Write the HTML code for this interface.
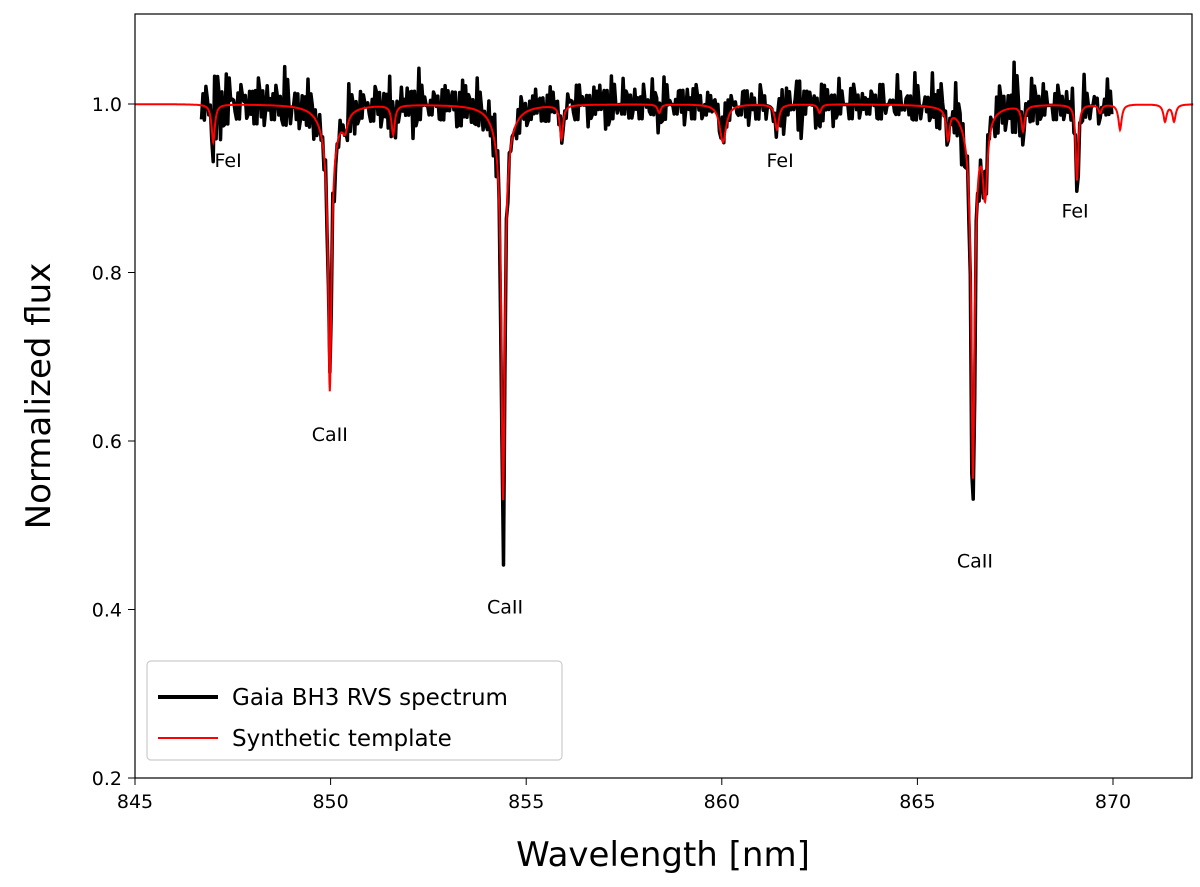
<!DOCTYPE html>
<html><head><meta charset="utf-8"><style>
body{margin:0;background:#fff;}
svg{display:block;font-family:"DejaVu Sans","Liberation Sans",sans-serif;}
</style></head><body>
<svg id="chart" width="1200" height="887">
<rect x="135" y="14" width="1057" height="764" fill="#fff"/>
<g id="marks"></g>
<rect x="135" y="14" width="1057" height="764" fill="none" stroke="#000" stroke-width="1.2"/>
<g id="ticks"></g>
<text x="663" y="866" font-size="34" text-anchor="middle">Wavelength [nm]</text>
<text transform="translate(50,396) rotate(-90)" font-size="34" text-anchor="middle">Normalized flux</text>
<g id="labels" font-size="19"></g>
<g>
<rect x="147" y="661" width="415" height="99" rx="4" fill="#fff" stroke="#ccc" stroke-width="1.2"/>
<line x1="158" y1="697" x2="218" y2="697" stroke="#000" stroke-width="4"/>
<text x="232" y="705" font-size="23">Gaia BH3 RVS spectrum</text>
<line x1="158" y1="738" x2="218" y2="738" stroke="#f00" stroke-width="2"/>
<text x="232" y="746" font-size="23">Synthetic template</text>
</g>
</svg>
<script>
const xTicks=[845,850,855,860,865,870];
const yTicks=[0.2,0.4,0.6,0.8,1.0];
// absorption lines: center (nm), template depth, observed depth, width (nm), wing depth
const lineCenters=[847.0,849.98,850.37,851.6,854.41,855.9,858.4,860.03,861.41,862.5,865.78,866.42,866.73,867.7,869.08,869.67,870.18,871.33,871.56];
const lineDepths=[0.045,0.30,0.02,0.035,0.43,0.04,0.01,0.045,0.03,0.01,0.035,0.40,0.09,0.03,0.09,0.01,0.03,0.02,0.02];
const obsDepths=[0.04,0.30,0.02,0.03,0.50,0.03,0.01,0.03,0.03,0.01,0.03,0.50,0.08,0.03,0.11,0.01,0,0,0];
const lineWidths=[0.05,0.05,0.08,0.05,0.05,0.05,0.05,0.1,0.06,0.05,0.05,0.05,0.07,0.05,0.04,0.05,0.05,0.05,0.05];
const wingDepths=[0,0.04,0,0,0.04,0,0,0,0,0,0,0.04,0,0,0,0,0,0,0];
const obsNoise=[0.03,-0.02,0.05,-0.03,0.04,-0.01,0.03,-0.02,0.02,0.04,-0.03,0.01,0.03,-0.02,0.04,0.0,-0.03,0.02,0.03,-0.02,0.01,0.03,-0.04,0.02,0.0,0.03,-0.02,0.02,-0.01,0.03,-0.03,0.02,0.04,-0.02,0.01,0.02,-0.03,0.03,0.0,0.02,-0.02,0.03,0.01,-0.03,0.04,0.02,-0.02,0.03,-0.01,0.02,0.04,-0.03,0.02,0.0,0.03,-0.02,0.02,0.01,-0.02,0.03,0.01,-0.02,0.02,-0.01,0.03,0.0,-0.02,0.02,0.01,-0.03,0.03,0.0,0.02,-0.02,0.01,0.03,-0.01,0.02,-0.02,0.03,0.0,0.02,-0.03,0.01,0.03,-0.02,0.02,0.01,-0.02,0.03,0.02,-0.01,0.02,-0.03,0.01,0.03,-0.02,0.0,0.02,-0.04,0.02,0.01,-0.05,0.02,0.0,-0.02,0.03,0.01,-0.02,0.02,0.0,0.03,-0.02,0.01,0.02,-0.02,0.03,0.0,-0.01,0.02,0.01,-0.02,0.03,0.0,-0.02,0.02,0.04,-0.02,0.01,0.03,-0.03,0.02,0.05,-0.02,0.03,0.0,0.04,-0.03,0.02,0.05,-0.02,0.01,0.03,-0.02,0.02,0.0,0.03,-0.02,0.01,0.02,-0.01,0.02,0.0,-0.02,0.01,0.02];
const labelText=["FeI","CaII","CaII","FeI","CaII","FeI"];
const labelX=[847.38,849.98,854.46,861.49,866.47,869.03];
const labelY=[0.925,0.6,0.395,0.925,0.45,0.865];

const NS="http://www.w3.org/2000/svg";
const X=v=>135+(v-845)*39.12;
const Y=v=>104+(1.0-v)*842.5;
const marks=document.getElementById('marks'),ticks=document.getElementById('ticks'),labels=document.getElementById('labels');
function prof(w,depths){let f=1;for(let i=0;i<lineCenters.length;i++){const d=(w-lineCenters[i])/lineWidths[i];f-=depths[i]/(1+d*d);const d2=(w-lineCenters[i])/0.25;f-=wingDepths[i]/(1+d2*d2);}return f;}
// observed
let p="";const n=obsNoise.length;const w0=846.7,w1=869.97;
for(let k=0;k<=n*4;k++){const w=w0+k*(w1-w0)/(n*4);const j=Math.min(n-1,Math.floor(k/4));const sgn=(k%2?1:-0.7);let v=prof(w,obsDepths)+obsNoise[j]*sgn*0.8+(k%4===1?obsNoise[(j+7)%n]*0.5:0);p+=(k?"L":"M")+X(w).toFixed(1)+","+Y(v).toFixed(1);}
let po=document.createElementNS(NS,'path');po.setAttribute('d',p);po.setAttribute('fill','none');po.setAttribute('stroke','#000');po.setAttribute('stroke-width','3.5');po.setAttribute('stroke-linejoin','round');


marks.appendChild(po);
// template
p="";for(let w=845,k=0;w<=872.05;w+=0.01,k++){p+=(k?"L":"M")+X(w).toFixed(1)+","+Y(prof(w,lineDepths)).toFixed(1);}
let pt=document.createElementNS(NS,'path');pt.setAttribute('d',p);pt.setAttribute('fill','none');pt.setAttribute('stroke','#f00');pt.setAttribute('stroke-width','2');


marks.appendChild(pt);
xTicks.forEach(t=>{const l=document.createElementNS(NS,'line');l.setAttribute('x1',X(t));l.setAttribute('x2',X(t));l.setAttribute('y1',778);l.setAttribute('y2',785);l.setAttribute('stroke','#000');


ticks.appendChild(l);const tx=document.createElementNS(NS,'text');tx.setAttribute('x',X(t));tx.setAttribute('y',808);tx.setAttribute('font-size','19');tx.setAttribute('text-anchor','middle');tx.textContent=t;


ticks.appendChild(tx);});
yTicks.forEach(t=>{const l=document.createElementNS(NS,'line');l.setAttribute('x1',128);l.setAttribute('x2',135);l.setAttribute('y1',Y(t));l.setAttribute('y2',Y(t));l.setAttribute('stroke','#000');


ticks.appendChild(l);const tx=document.createElementNS(NS,'text');tx.setAttribute('x',122);tx.setAttribute('y',Y(t)+7);tx.setAttribute('font-size','19');tx.setAttribute('text-anchor','end');tx.textContent=t.toFixed(1);


ticks.appendChild(tx);});
labelText.forEach((s,i)=>{const tx=document.createElementNS(NS,'text');tx.setAttribute('x',X(labelX[i]));tx.setAttribute('y',Y(labelY[i]));tx.setAttribute('text-anchor','middle');tx.textContent=s;


labels.appendChild(tx);});
</script>
</body></html>
